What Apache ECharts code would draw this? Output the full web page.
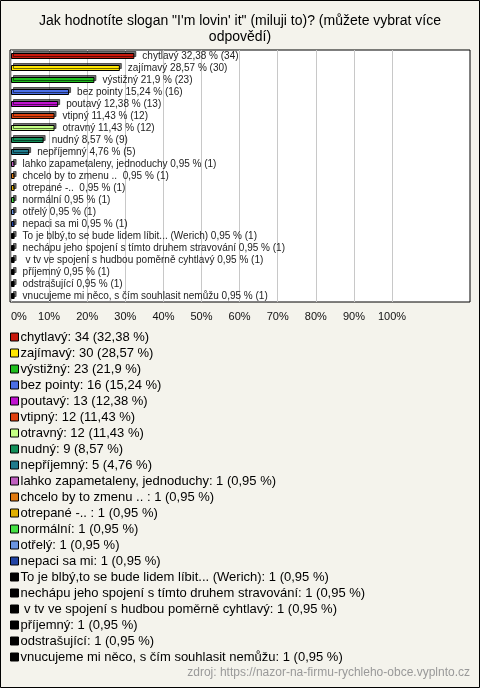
<!DOCTYPE html>
<html>
<head>
<meta charset="utf-8">
<script src="https://cdn.jsdelivr.net/npm/echarts@6/dist/echarts.min.js"></script>
<style>html,body{margin:0;padding:0;background:#f4f3ec;}#c{width:480px;height:688px;}</style>
</head>
<body>
<div id="c"></div>
<script>
const categories = ['chytlavý','zajímavý','výstižný','bez pointy','poutavý','vtipný','otravný','nudný','nepříjemný','lahko zapametaleny, jednoduchy','chcelo by to zmenu .. ','otrepané -.. ','normální','otřelý','nepaci sa mi','To je blbý,to se bude lidem líbit... (Werich)','nechápu jeho spojení s tímto druhem stravování',' v tv ve spojení s hudbou poměrně cyhtlavý','příjemný','odstrašující','vnucujeme mi něco, s čím souhlasit nemůžu'];
const counts = [34,30,23,16,13,12,12,9,5,1,1,1,1,1,1,1,1,1,1,1,1];
const percents = [32.38,28.57,21.9,15.24,12.38,11.43,11.43,8.57,4.76,0.95,0.95,0.95,0.95,0.95,0.95,0.95,0.95,0.95,0.95,0.95,0.95];
const colors = ['#c8180c','#ffe600','#1fbf1f','#4a6ee6','#c014d0','#e0400e','#c4ff84','#12905a','#1f7a8c','#c060c0','#e07a10','#e0b000','#44e044','#6a94e0','#2244a4','#000000','#000000','#000000','#000000','#000000','#000000'];
const xTicks = [0,10,20,30,40,50,60,70,80,90,100];

const fmt = v => String(v).replace('.', ',');
const FONT = 'Liberation Sans, Arial, sans-serif';

const chart = echarts.init(document.getElementById('c'));
const series = categories.map((name, i) => ({
  type: 'bar', name, stack: 's', xAxisIndex: 1, yAxisIndex: 1, barWidth: 6,
  data: categories.map((_, j) => j === i ? percents[i] : '-'),
  itemStyle: { color: colors[i], borderColor: '#000', borderWidth: 1, shadowColor: 'rgba(0,0,0,0.55)', shadowOffsetX: 2, shadowOffsetY: -2, shadowBlur: 0 },
  label: { show: true, position: 'right', distance: 8, fontFamily: FONT, fontSize: 10, color: '#222',
    formatter: () => name + ' ' + fmt(percents[i]) + ' % (' + counts[i] + ')' },
  emphasis: { disabled: true },
  animation: false
}));

chart.setOption({
  backgroundColor: '#f4f3ec',
  animation: false,
  title: [
    { text: 'Jak hodnotíte slogan "I\'m lovin\' it" (miluji to)? (můžete vybrat více\nodpovědí)', left: 'center', top: 13, padding: 0,
      textStyle: { fontFamily: FONT, fontSize: 14, fontWeight: 'normal', color: '#000', lineHeight: 16, align: 'center' } },
    { text: 'zdroj: https://nazor-na-firmu-rychleho-obce.vyplnto.cz', right: 10, top: 667, padding: 0,
      textStyle: { fontFamily: FONT, fontSize: 12, fontWeight: 'normal', color: '#999' } }
  ],
  graphic: [{ type: 'rect', shape: { x: 0.5, y: 0.5, width: 479, height: 687 }, style: { fill: 'none', stroke: '#000', lineWidth: 1 }, silent: true }],
  grid: [
    { left: 10, top: 50, width: 460, height: 252, show: true, backgroundColor: '#fff', borderColor: '#000', borderWidth: 1 },
    { left: 11, top: 50, width: 381, height: 252 }
  ],
  xAxis: [
    { gridIndex: 0, type: 'value', show: false },
    { gridIndex: 1, type: 'value', min: 0, max: 100, interval: 10,
      axisLine: { show: false }, axisTick: { show: false },
      splitLine: { show: true, lineStyle: { color: '#c8c8c8', width: 1 } },
      axisLabel: { margin: 9, fontFamily: FONT, fontSize: 11, color: '#111', alignMinLabel: 'left', formatter: v => xTicks.includes(v) ? v + '%' : '' } }
  ],
  yAxis: [
    { gridIndex: 0, type: 'value', show: false },
    { gridIndex: 1, type: 'category', data: categories, inverse: true,
      axisLine: { show: false }, axisTick: { show: false }, axisLabel: { show: false }, splitLine: { show: false } }
  ],
  legend: {
    orient: 'vertical', left: 10, top: 329, padding: 0, itemGap: 0, itemWidth: 8, itemHeight: 8, icon: 'rect',
    itemStyle: { borderColor: '#000', borderWidth: 1 },
    textStyle: { fontFamily: FONT, fontSize: 13, color: '#000', lineHeight: 16, padding: [0, 0, 0, -3] },
    data: categories,
    formatter: name => { const i = categories.indexOf(name); return name + ': ' + counts[i] + ' (' + fmt(percents[i]) + ' %)'; }
  },
  series
});
</script>
</body>
</html>
